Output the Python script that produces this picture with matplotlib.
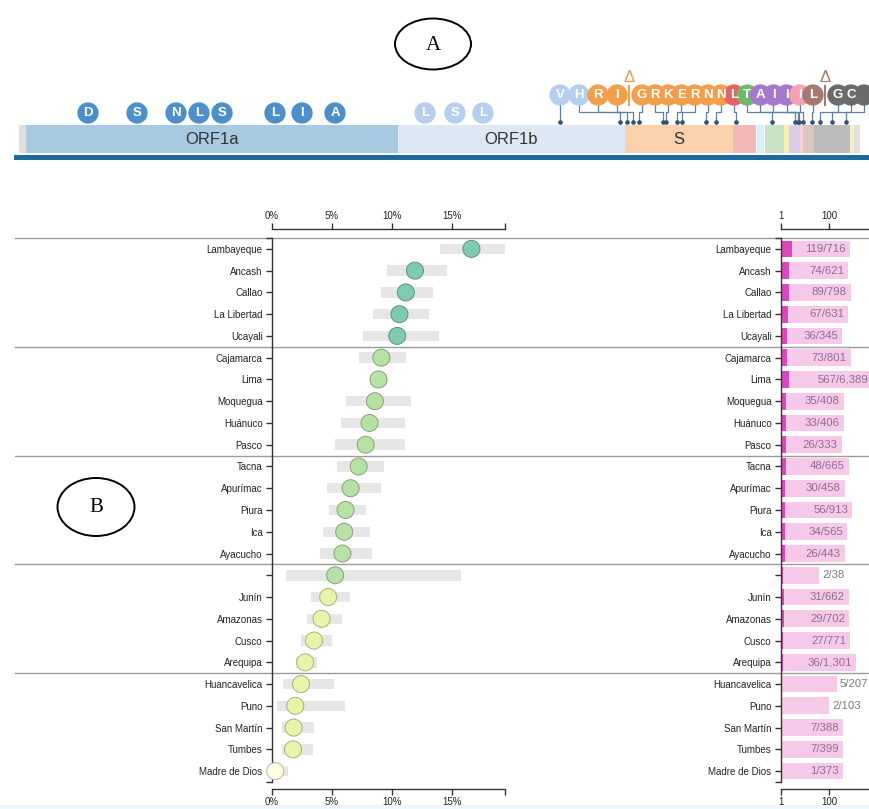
import numpy as np
import matplotlib.pyplot as plt
from matplotlib.colors import to_rgb
from matplotlib.patches import Ellipse, Rectangle
from matplotlib.transforms import blended_transform_factory

plt.rcParams['font.family'] = ['Liberation Sans', 'DejaVu Sans']

W, H = 870, 809

# regions, sorted by share of sequences carrying the variant
regions = ['Lambayeque', 'Ancash', 'Callao', 'La Libertad', 'Ucayali',
           'Cajamarca', 'Lima', 'Moquegua', 'Huánuco', 'Pasco',
           'Tacna', 'Apurímac', 'Piura', 'Ica', 'Ayacucho',
           '', 'Junín', 'Amazonas', 'Cusco', 'Arequipa',
           'Huancavelica', 'Puno', 'San Martín', 'Tumbes', 'Madre de Dios']
variant_counts = np.array([119, 74, 89, 67, 36, 73, 567, 35, 33, 26, 48, 30, 56, 34, 26,
                           2, 31, 29, 27, 36, 5, 2, 7, 7, 1])
sample_totals = np.array([716, 621, 798, 631, 345, 801, 6389, 408, 406, 333, 665, 458, 913, 565, 443,
                          38, 662, 702, 771, 1301, 207, 103, 388, 399, 373])
# 95% interval of the share (%)
ci_low = np.array([14.0, 9.6, 9.1, 8.4, 7.6, 7.25, 8.2, 6.2, 5.75, 5.25, 5.4, 4.6, 4.75, 4.25, 4.0,
                   1.2, 3.25, 2.9, 2.4, 2.0, 0.9, 0.4, 0.85, 0.85, 0.0])
ci_high = np.array([19.4, 14.6, 13.4, 13.1, 13.9, 11.2, 9.6, 11.6, 11.1, 11.1, 9.3, 9.1, 7.8, 8.2, 8.3,
                    15.75, 6.5, 5.8, 5.0, 3.75, 5.2, 6.1, 3.5, 3.45, 1.3])
group_size = 5

# SARS-CoV-2 genome map (nucleotide coordinates)
GENOME_LEN = 29903
gene_names = ['5UTR', 'ORF1a', 'ORF1b', 'S', 'ORF3a', 'E', 'M', 'ORF6',
              'ORF7a', 'ORF7b', 'ORF8', 'N', 'ORF10', '3UTR']
gene_starts = [1, 266, 13468, 21563, 25393, 26245, 26523, 27202,
               27394, 27756, 27894, 28274, 29558, 29675]
gene_ends = [265, 13483, 21555, 25384, 26220, 26472, 27191, 27387,
             27759, 27887, 28259, 29533, 29674, 29903]
labelled_genes = ['ORF1a', 'ORF1b', 'S']

# mutations drawn sitting on the genome bar
bar_mut_letters = ['D', 'S', 'N', 'L', 'S', 'L', 'I', 'A', 'L', 'S', 'L']
bar_mut_pos = [2453, 4196, 5582, 6400, 7218, 9102, 10062, 11236, 14436, 15502, 16498]
bar_mut_genes = ['ORF1a'] * 8 + ['ORF1b'] * 3

# mutations drawn in a lifted row with connectors
row_mut_letters = ['V', 'H', 'R', 'I', 'G', 'R', 'K', 'E', 'R', 'N', 'N',
                   'L', 'T', 'A', 'I', 'I', 'I', 'L', 'G', 'C', 'N']
row_mut_pos = [19236, 21369, 21618, 21831, 22045, 22898, 23005, 23396, 23574, 24427, 24782,
               25494, 26774, 27592, 27681, 27745, 27876, 28196, 28481, 28907, 29406]
row_mut_genes = ['ORF1b', 'ORF1b'] + ['S'] * 9 + ['ORF3a', 'M', 'ORF7a', 'ORF7a', 'ORF7a',
                                                  'ORF7b', 'ORF8', 'N', 'N', 'N']
deletion_after = [3, 17]
deletion_genes = ['S', 'ORF8']

gene_fill = {'5UTR': '#e2dedb', 'ORF1a': '#a7c9e2', 'ORF1b': '#dde8f4', 'S': '#f9d2ad',
             'ORF3a': '#f3b9b9', 'E': '#d8eef8', 'M': '#c8e2c3', 'ORF6': '#f7efb8',
             'ORF7a': '#dccbe9', 'ORF7b': '#f7cfd9', 'ORF8': '#dcc6c0', 'N': '#bbbbbb',
             'ORF10': '#f2efc4', '3UTR': '#e2dedb'}
mut_color = {'ORF1a': '#4d8fc9', 'ORF1b': '#b5cdee', 'S': '#f49d4b', 'ORF3a': '#e46464',
             'M': '#6dba6d', 'ORF7a': '#a678cc', 'ORF7b': '#f4a3b3', 'ORF8': '#a47a6e',
             'N': '#6b6b6b'}


def share_color(p):
    if p >= 10:
        return '#7ecbb0'
    if p >= 5:
        return '#b7e2a6'
    if p >= 1:
        return '#e9f4aa'
    return '#fcfde2'


def darker(c, f=0.72):
    return tuple(v * f for v in to_rgb(c))


fig = plt.figure(figsize=(W / 100, H / 100), dpi=100)

# pixel-space layer for frames, separators and callouts
over = fig.add_axes([0, 0, 1, 1], zorder=0)
over.set_xlim(0, W)
over.set_ylim(H, 0)
over.axis('off')
over.add_patch(Rectangle((0, 805), W, 4, color='#eef8fc', lw=0))
over.add_patch(Rectangle((14, 155), W - 14, 5, color='#1b6a9b', lw=0))
over.add_patch(Ellipse((433, 44), 76, 51, fill=False, ec='black', lw=1.4))
over.text(433, 45, 'A', family='Liberation Serif', fontsize=15, ha='center', va='center')
over.add_patch(Ellipse((96, 507), 77, 58, fill=False, ec='black', lw=1.4))
over.text(96, 508, 'B', family='Liberation Serif', fontsize=15, ha='center', va='center')

# ---- genome map ----
GX0, GX1 = 19, 860
NT_PER_PX = GENOME_LEN / (GX1 - GX0)
gax = fig.add_axes([GX0 / W, 1 - 170 / H, (GX1 - GX0) / W, 110 / H], zorder=2)
gax.set_xlim(0, GENOME_LEN)
gax.set_ylim(170, 60)
gax.axis('off')

for name, s, e in zip(gene_names, gene_starts, gene_ends):
    gax.barh(139, e - s + 1, left=s - 1, height=28, color=gene_fill[name], lw=0, zorder=1)
    if name in labelled_genes:
        gax.text((s + e) / 2, 140, name, ha='center', va='center', fontsize=12, color='#333333')

R_S = 235  # marker area for the mutation badges
gax.scatter(bar_mut_pos, [113] * len(bar_mut_pos), s=R_S,
            c=[mut_color[g] for g in bar_mut_genes], lw=0, zorder=4, clip_on=False)
for x, t in zip(bar_mut_pos, bar_mut_letters):
    gax.text(x, 113.5, t, ha='center', va='center', color='white', fontsize=9.5,
             fontweight='bold', zorder=5)

# lay out the lifted row: fixed spacing per block, wider gap at each deletion
GROUP_STEP = [19, 13.15, 13]
DEL_GAP = 25
disp_px = []
g = 0
for i in range(len(row_mut_letters)):
    if i == 0:
        xpx = row_mut_pos[0] / NT_PER_PX
    elif i - 1 in deletion_after:
        g += 1
        xpx += DEL_GAP
    else:
        xpx += GROUP_STEP[g]
    disp_px.append(xpx)
disp_nt = np.array(disp_px) * NT_PER_PX

for xd, xt in zip(disp_nt, row_mut_pos):
    gax.plot([xd, xd, xt, xt], [105, 112, 112, 121], color='#5f80a2', lw=0.9, zorder=2,
             clip_on=False)
gax.scatter(row_mut_pos, [122] * len(row_mut_pos), s=11, color='#34516f', lw=0, zorder=3)
gax.scatter(disp_nt, [95] * len(disp_nt), s=R_S,
            c=[mut_color[g] for g in row_mut_genes], lw=0, zorder=4, clip_on=False)
for x, t in zip(disp_nt, row_mut_letters):
    gax.text(x, 95.5, t, ha='center', va='center', color='white', fontsize=9.5,
             fontweight='bold', zorder=5, clip_on=True)

for idx, gname in zip(deletion_after, deletion_genes):
    xm = (disp_nt[idx] + disp_nt[idx + 1]) / 2
    c = mut_color[gname]
    gax.plot([xm, xm], [86, 105], color=c, lw=1.5, zorder=6)
    gax.text(xm, 77, 'Δ', ha='center', va='center', color=c, fontsize=12, zorder=6)

# ---- shared row layout ----
n = len(regions)
rows = np.arange(n)
share = 100 * variant_counts / sample_totals
TOP, BOT = 238, 782
row_ticks = [-0.5] + list(rows) + [n - 0.5]
row_labels = [''] + regions + ['']


def style_axis(ax):
    for side in ['top', 'bottom', 'left']:
        ax.spines[side].set_color('#333333')
        ax.spines[side].set_linewidth(1)
    ax.spines['right'].set_visible(False)
    ax.spines['top'].set_position(('outward', 6.5))
    ax.spines['bottom'].set_position(('outward', 5))
    ax.tick_params(axis='x', which='both', top=True, labeltop=True, bottom=True,
                   labelbottom=True, length=4.3, width=1, color='#333333',
                   labelsize=7, labelcolor='#222222', pad=1.5)
    ax.tick_params(axis='y', length=4.3, width=1, color='#333333', labelsize=7,
                   labelcolor='#222222', pad=2.5)
    ax.set_yticks(row_ticks)
    ax.set_yticklabels(row_labels)
    ax.set_ylim(n - 0.5, -0.5)
    ax.patch.set_visible(False)


# ---- left: share with interval ----
PX_PER_PCT = 12.0
lax = fig.add_axes([272 / W, 1 - BOT / H, 233 / W, (BOT - TOP) / H], zorder=3)
xmax = 233 / PX_PER_PCT
lax.barh(rows, ci_high - ci_low, left=ci_low, height=0.48, color='#e6e6e6', lw=0, zorder=1)
cols = [share_color(p) for p in share]
lax.scatter(share, rows, s=150, c=cols, edgecolors=[darker(c) for c in cols],
            linewidths=0.7, zorder=3, clip_on=False)
lax.set_xlim(0, xmax)
lax.set_xticks([0, 5, 10, 15, xmax])
lax.set_xticklabels(['0%', '5%', '10%', '15%', ''])
style_axis(lax)

# group separators across the whole width
sep_tf = blended_transform_factory(over.transData, lax.transData)
for k in range(0, n, group_size):
    over.plot([15, W], [k - 0.5, k - 0.5], transform=sep_tf, color='#9c9c9c', lw=1,
              zorder=1, clip_on=False)

# ---- right: counts on a log scale ----
PX_PER_DECADE = 24
rax = fig.add_axes([781 / W, 1 - BOT / H, 99 / W, (BOT - TOP) / H], zorder=3)
rax.set_xscale('log')
rax.barh(rows, sample_totals - 1, left=1, height=0.77, color='#f6c9e8', lw=0, zorder=1)
count_end = sample_totals.astype(float) ** (variant_counts / sample_totals)
rax.barh(rows, count_end - 1, left=1, height=0.77, color='#dc48bc', lw=0, zorder=2)
for r, c, t in zip(rows, variant_counts, sample_totals):
    txt = f'{c:,}/{t:,}'
    if t < 300:
        rax.annotate(txt, (t, r), xytext=(3, 0), textcoords='offset pixels', ha='left',
                     va='center', fontsize=8.2, color='#7a7a7a', annotation_clip=False)
    else:
        rax.annotate(txt, (t, r), xytext=(-4, 0), textcoords='offset pixels', ha='right',
                     va='center', fontsize=8.2, color='#8e6c8e', annotation_clip=False)
rax.set_xlim(1, 10 ** (99 / PX_PER_DECADE))
rax.set_xticks([1, 100])
rax.set_xticklabels(['1', '100'])
rax.minorticks_off()
style_axis(rax)

fig.savefig('out.png', dpi=100)
